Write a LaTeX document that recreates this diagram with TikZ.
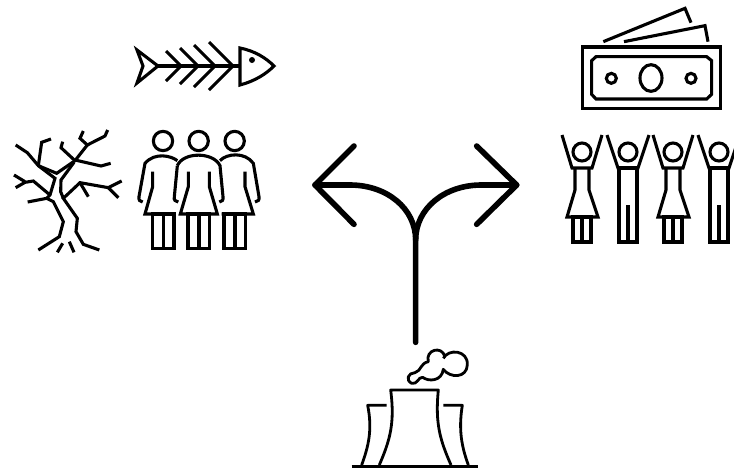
\documentclass[tikz,border=0pt]{standalone}
\usepackage{tikz}
\usetikzlibrary{calc}

\begin{document}
\begin{tikzpicture}[
  x=1pt, y=-1pt,
  ink/.style={draw=black, line width=3.1pt, line join=miter},
  thinink/.style={draw=black, line width=2.8pt, line join=round},
  arrowink/.style={draw=black, line width=5.6pt, line cap=round, line join=round},
  zoomed/.style={shift={(#1)}, scale=1/3}
]
\clip (0,0) rectangle (734,469);
% fish
\draw[ink] (137,50) -- (158,66) -- (137,83) -- (143,66) -- cycle;
\draw[ink] (158,66) -- (240,66);
\foreach \bx/\by in {166/15, 180/18, 194/21, 209/24} {
  \draw[ink] (\bx,66-\by) -- (\bx+\by,66) -- (\bx,66+\by);
}
\draw[ink] (240,66) -- (240,48) .. controls (255,51) and (266,58) .. (274,66)
  .. controls (266,74) and (255,81) .. (240,85) -- cycle;
\fill (252,60) circle [radius=3];
% dead tree
\begin{scope}[zoomed={0,0}]
\draw[ink] (115,750) -- (178,710) -- (190,665) -- (160,605) -- (140,595) -- (83,606);
\draw[ink] (140,595) -- (150,585) -- (165,535) -- (115,497) -- (82,458) -- (47,435);
\draw[ink] (115,497) -- (125,427) -- (153,417);
\draw[ink] (150,585) -- (100,543) -- (75,547) -- (47,563);
\draw[ink] (75,545) -- (42,525);
\draw[ink] (115,497) -- (170,520) -- (225,482) -- (262,435) -- (240,415) -- (250,393);
\draw[ink] (262,435) -- (315,408) -- (323,390);
\draw[ink] (225,482) -- (183,443) -- (188,425);
\draw[ink] (225,480) -- (303,498) -- (332,490);
\draw[ink] (298,750) -- (250,733) -- (228,695) -- (232,655) -- (190,595) -- (240,548) -- (325,563) -- (365,543);
\draw[ink] (325,563) -- (355,593);
\draw[ink] (240,548) -- (265,590);
\draw[ink] (190,595) -- (182,575) -- (183,540) -- (222,487);
\draw[ink] (172,757) -- (188,730);
\draw[ink] (222,757) -- (208,725);
\end{scope}
% three women
\begin{scope}[zoomed={0,0}]
\foreach \hx in {489, 596, 704} {
  \draw[ink] (\hx,423) circle [radius=29];
  \draw[ink] (\hx-32,642) rectangle (\hx+33,745);
  \draw[ink] (\hx+1,642) -- (\hx+1,745);
}
\draw[ink] (532,482) .. controls (515,468) and (465,455) .. (435,490) -- (417,590)
  .. controls (415,600) and (420,605) .. (428,606);
\draw[ink] (458,515) -- (458,560) -- (435,642) -- (527,642);
\draw[ink] (532,497) .. controls (550,455) and (640,455) .. (660,497) -- (669,590)
  .. controls (671,600) and (666,605) .. (658,606);
\draw[ink] (532,497) -- (523,590) .. controls (521,600) and (526,605) .. (535,606);
\draw[ink] (565,515) -- (565,560) -- (541,642) -- (652,642) -- (628,560) -- (628,515);
\draw[ink] (660,482) .. controls (680,460) and (735,455) .. (760,490) -- (777,590)
  .. controls (779,600) and (774,605) .. (765,606);
\draw[ink] (735,515) -- (735,560) -- (760,642) -- (665,642);
\end{scope}
% money
\begin{scope}[zoomed={550,0}]
\draw[ink] (97,141) rectangle (512,326);
\draw[ink] (125,182) -- (138,170) -- (470,170) -- (485,182) -- (485,283) -- (470,297) -- (138,297) -- (125,283) -- cycle;
\draw[ink] (303,234) ellipse [x radius=33, y radius=40];
\draw[ink] (184,235) circle [radius=15];
\draw[ink] (423,235) circle [radius=15];
\draw[ink] (160,125) -- (405,25) -- (423,68);
\draw[ink] (222,125) -- (465,77) -- (474,125);
\end{scope}
% cheering people
\foreach \px in {582, 673} {
  \draw[ink] (\px,152) circle [radius=9];
  \draw[ink] (\px-20,135) -- (\px-10,168) -- (\px+10,168) -- (\px+20,135);
  \draw[ink] (\px-7,168) -- (\px-7,190) -- (\px-15,217) -- (\px+16,217) -- (\px+7,190) -- (\px+7,168);
  \draw[ink] (\px-9,217) rectangle (\px+9,242);
  \draw[ink] (\px,217) -- (\px,242);
}
\foreach \px in {628, 719} {
  \draw[ink] (\px,152) circle [radius=9];
  \draw[ink] (\px-21,135) -- (\px-10,168) -- (\px+10,168) -- (\px+21,135);
  \draw[ink] (\px-9,168) rectangle (\px+9,242);
  \draw[ink] (\px,205) -- (\px,242);
}
% forking arrow
\begin{scope}[zoomed={300,130}]
\draw[arrowink] (347,637) -- (347,330) .. controls (347,235) and (260,165) .. (150,165) -- (45,165);
\draw[arrowink] (347,330) .. controls (347,235) and (434,165) .. (544,165) -- (650,165);
\draw[arrowink] (162,48) -- (45,165) -- (162,283);
\draw[arrowink] (530,48) -- (650,165) -- (530,283);
% cooling towers
\draw[thinink] (155,1010) -- (535,1010);
\draw[thinink] (238,1005) .. controls (270,930) and (285,880) .. (272,780) -- (415,780)
  .. controls (405,880) and (420,930) .. (453,1005);
\draw[thinink] (260,826) -- (203,826) .. controls (218,900) and (205,950) .. (185,1005);
\draw[thinink] (430,826) -- (487,826) .. controls (475,900) and (485,950) .. (505,1005);
% smoke
\draw[thinink] (430,685) .. controls (445,655) and (505,660) .. (502,705)
  .. controls (500,745) and (450,745) .. (430,718)
  .. controls (425,755) and (385,755) .. (368,742)
  .. controls (355,740) and (352,765) .. (335,760)
  .. controls (315,750) and (325,728) .. (345,728)
  .. controls (365,722) and (360,700) .. (385,695)
  .. controls (375,660) and (425,645) .. (435,680);
\end{scope}
\end{tikzpicture}
\end{document}
